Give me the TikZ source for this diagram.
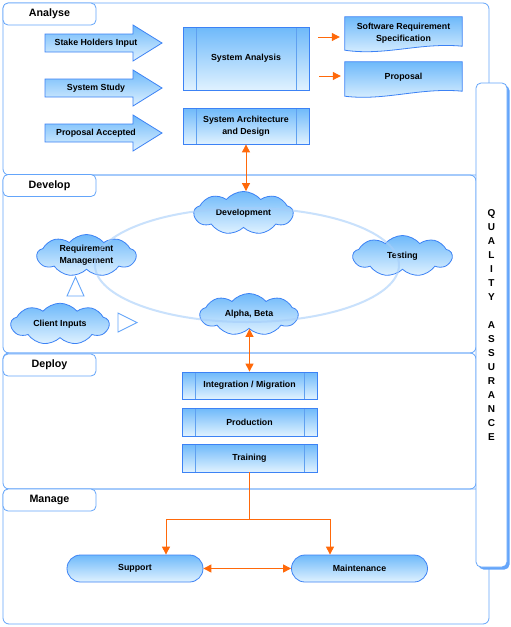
\documentclass[tikz,border=0pt]{standalone}
\usepackage{fontspec}
\setmainfont{Liberation Sans}
\usetikzlibrary{shapes.symbols,arrows.meta,backgrounds,shadows}
\definecolor{frame}{RGB}{100,165,250}
\definecolor{nborder}{RGB}{60,130,245}
\definecolor{nline}{RGB}{95,160,240}
\definecolor{ntop}{RGB}{110,185,250}
\definecolor{nbot}{RGB}{224,242,255}
\definecolor{org}{RGB}{255,105,10}
\definecolor{ell}{RGB}{165,205,250}
\begin{document}
\begin{tikzpicture}[x=1pt,y=-1pt,
  txt/.style={font=\fontsize{8.8}{12}\selectfont\bfseries, align=center, inner sep=0pt},
  sec/.style={draw=frame, line width=0.8pt, rounded corners=6pt},
  tab/.style={draw=frame, line width=0.8pt, fill=white, rounded corners=5pt, minimum width=93pt, minimum height=22pt, inner sep=0pt, font=\fontsize{10.7}{13}\selectfont\bfseries},
  shadefill/.style={draw=nborder, line width=0.8pt, top color=ntop, bottom color=nbot},
  procbox/.style={txt, shadefill, minimum width=#1, path picture={
      \draw[nline, line width=0.9pt] ([xshift=13pt]path picture bounding box.north west) -- ([xshift=13pt]path picture bounding box.south west)
      ([xshift=-13pt]path picture bounding box.north east) -- ([xshift=-13pt]path picture bounding box.south east);}},
  procbox/.default=126pt,
  docnode/.style={txt, minimum width=117pt},
  cloudnode/.style={txt, shadefill, cloud, cloud puffs=9, cloud puff arc=100, aspect=2.4, minimum width=99pt, minimum height=41pt},
  stadium/.style={txt, shadefill, rounded corners=13.5pt, minimum width=136pt, minimum height=27pt},
  bigarrow/.style={shadefill},
  oarrow/.style={draw=org, line width=1pt, -{Triangle[length=8pt,width=8pt]}},
  oarrow2/.style={draw=org, line width=1pt, {Triangle[length=8pt,width=8pt]}-{Triangle[length=8pt,width=8pt]}},
  orgline/.style={draw=org, line width=1.1pt},
  tri/.style={draw=frame, line width=0.9pt, fill=white},
  qabox/.style={draw=frame, line width=0.8pt, fill=white, rounded corners=5pt, minimum width=31pt, minimum height=484pt, inner sep=0pt, align=center,
     font=\fontsize{10}{14}\selectfont\bfseries,
     drop shadow={shadow xshift=2.5pt, shadow yshift=-2.5pt, fill=frame, opacity=1}}
]
\useasboundingbox (0,0) rectangle (511,627);
\begin{scope}[on background layer]
\fill[white] (0,0) rectangle (511,627);
\end{scope}

% sections
\draw[sec] (3,3) rectangle (489,175);
\draw[sec] (3,175) rectangle (476,353);
\draw[sec] (3,353) rectangle (476,489);
\draw[sec] (3,489) rectangle (489,624);

\node[tab] (tanalyse) at (49.5,14) {Analyse};
\node[tab] (tdevelop) at (49.5,185.5) {Develop};
\node[tab] (tdeploy) at (49.5,365) {Deploy};
\node[tab] (tmanage) at (49.5,500) {Manage};

% Analyse
\path[bigarrow] (45,34) -- (133,34) -- (133,25) -- (162,43) -- (133,61) -- (133,52) -- (45,52) -- cycle;
\node[txt] (shi) at (96,43) {Stake Holders Input};
\path[bigarrow] (45,79) -- (133,79) -- (133,70) -- (162,88) -- (133,106) -- (133,97) -- (45,97) -- cycle;
\node[txt] (ss) at (96,88) {System Study};
\path[bigarrow] (45,124) -- (133,124) -- (133,115) -- (162,133) -- (133,151) -- (133,142) -- (45,142) -- cycle;
\node[txt] (pa) at (96,133) {Proposal Accepted};

\node[procbox, minimum height=63pt] (sa) at (246,58.5) {System Analysis};
\node[procbox, minimum height=36pt] (sad) at (246,126) {System Architecture\\and Design};

\node[docnode, minimum height=32pt] (srs) at (403.5,33) {Software Requirement\\Specification};
\node[docnode, minimum height=30pt] (prop) at (403.5,77) {Proposal};
\begin{scope}[on background layer]
\path[shadefill] (srs.north west) -- (srs.north east) -- ([yshift=3pt]srs.south east)
   .. controls ([xshift=-42pt,yshift=7pt]srs.south east) and ([xshift=40pt,yshift=-7pt]srs.south west) .. ([yshift=-1pt]srs.south west) -- cycle;
\path[shadefill] (prop.north west) -- (prop.north east) -- ([yshift=1pt]prop.south east)
   .. controls ([xshift=-42pt,yshift=5pt]prop.south east) and ([xshift=40pt,yshift=-9pt]prop.south west) .. ([yshift=-4pt]prop.south west) -- cycle;
\end{scope}

\draw[oarrow] ([xshift=9pt,yshift=-4pt]sa.east |- srs.west) -- ([xshift=-5pt,yshift=-4pt]srs.west);
\draw[oarrow] ([xshift=10pt,yshift=1pt]sa.east |- prop.west) -- ([xshift=-4pt,yshift=1pt]prop.west);

% Develop
\node[cloudnode] (dev) at (243.5,213) {Development};
\node[cloudnode, minimum height=42pt] (reqm) at (86.5,255.5) {Requirement\\Management};
\node[cloudnode, minimum width=98pt, minimum height=39pt] (client) at (60,324) {Client Inputs};
\node[cloudnode, minimum width=98pt, minimum height=42pt] (alpha) at (249,314.5) {Alpha, Beta};
\node[cloudnode] (test) at (402.5,256) {Testing};
\draw[ell, line width=2pt, opacity=0.6] (247,265) ellipse [x radius=152, y radius=57];

\draw[tri] (75.5,277) -- (84,296) -- (67,296) -- cycle;
\draw[tri] (118,313) -- (137,322.5) -- (118,332) -- cycle;

\draw[oarrow2] (sad.south) -- (sad.south |- dev.north);

% Deploy
\node[procbox=135pt, minimum height=27pt] (integ) at (249.5,385.5) {Integration / Migration};
\node[procbox=135pt, minimum height=28pt] (prod) at (249.5,422) {Production};
\node[procbox=135pt, minimum height=28pt] (train) at (249.5,458) {Training};
\draw[oarrow2] (alpha.south -| integ.north) -- (integ.north);

% Manage
\node[stadium] (support) at (135,568.5) {Support};
\node[stadium] (maint) at (359.5,568.5) {Maintenance};
\coordinate (split) at (249.5,519);
\draw[orgline] (train.south) -- (split);
\draw[oarrow] (split) -| ([xshift=31pt]support.north);
\draw[oarrow] (split) -| ([xshift=-29.5pt]maint.north);
\draw[oarrow2] (support.east) -- (maint.west);

% QA
\node[qabox] (qa) at (491.5,325) {Q\\U\\A\\L\\I\\T\\Y\\[14pt]A\\S\\S\\U\\R\\A\\N\\C\\E};
\end{tikzpicture}
\end{document}
